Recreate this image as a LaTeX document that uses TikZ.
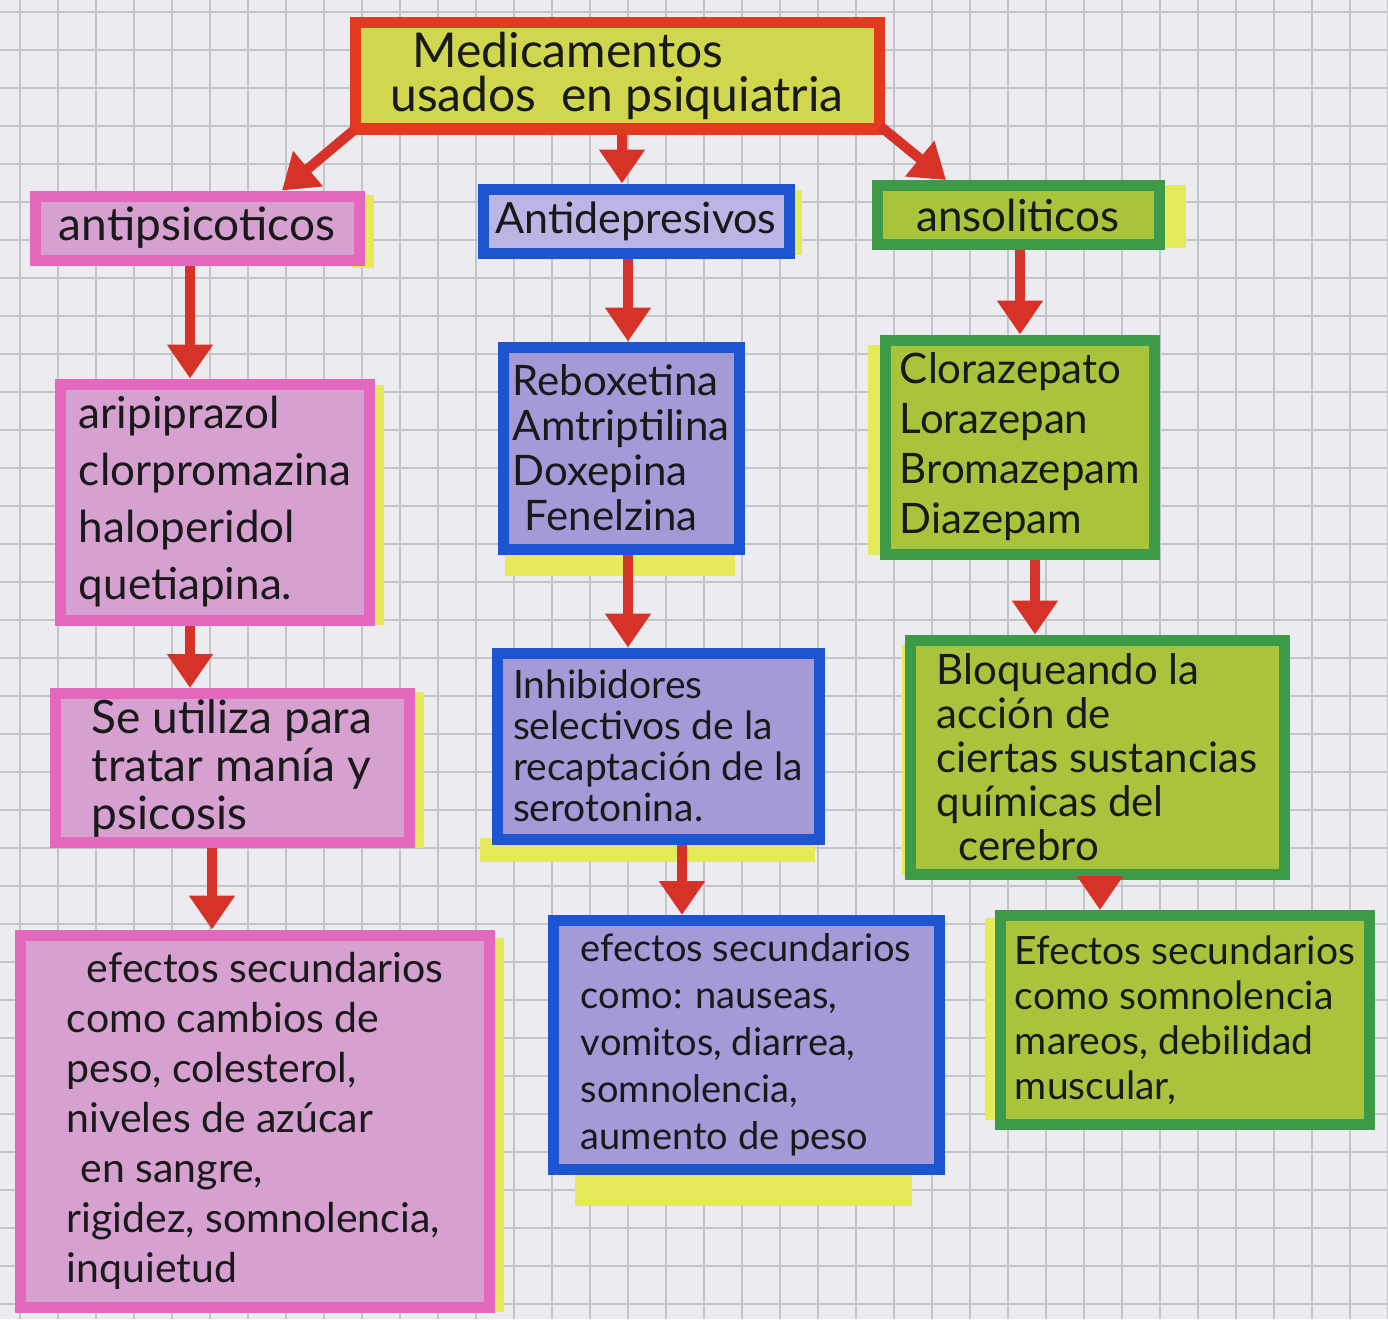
\documentclass[tikz,border=0pt]{standalone}
\usepackage{fontspec}
\setmainfont{Lato}
\usetikzlibrary{arrows.meta}
\definecolor{paper}{RGB}{236,235,240}
\definecolor{gridc}{RGB}{196,196,204}
\definecolor{hlyel}{RGB}{228,234,90}
\definecolor{redb}{RGB}{226,58,30}
\definecolor{titlefill}{RGB}{208,214,78}
\definecolor{pinkb}{RGB}{228,104,190}
\definecolor{pinkf}{RGB}{214,160,208}
\definecolor{blueb}{RGB}{30,84,208}
\definecolor{bluef}{RGB}{164,154,216}
\definecolor{bluefl}{RGB}{188,180,228}
\definecolor{greenb}{RGB}{60,154,72}
\definecolor{greenf}{RGB}{168,196,60}
\definecolor{arrowc}{RGB}{214,50,40}
\tikzset{
  box/.style={draw, line width=11pt, rectangle, inner sep=3pt, align=left, text=black!90},
  pinkbox/.style={box, draw=pinkb, fill=pinkf},
  bluebox/.style={box, draw=blueb, fill=bluef},
  greenbox/.style={box, draw=greenb, fill=greenf},
  arr/.style={draw=arrowc, line width=10pt, -{Triangle[width=44pt,length=34pt]}, arrowc},
  hl/.style={fill=hlyel}
}
\begin{document}
\begin{tikzpicture}[x=1pt,y=-1pt]
\useasboundingbox (0,0) rectangle (1388,1319);
\fill[paper] (0,0) rectangle (1388,1319);
\foreach \gx in {20,58,...,1388} \draw[gridc, line width=1.6pt] (\gx,0) -- (\gx,1319);
\foreach \gy in {12,50,...,1319} \draw[gridc, line width=1.6pt] (0,\gy) -- (1388,\gy);
% yellow highlighter strips
\fill[hl] (352,195) rectangle (374,268);
\fill[hl] (362,385) rectangle (384,625);
\fill[hl] (400,692) rectangle (424,848);
\fill[hl] (482,938) rectangle (504,1312);
\fill[hl] (785,190) rectangle (802,255);
\fill[hl] (505,548) rectangle (735,576);
\fill[hl] (480,838) rectangle (815,862);
\fill[hl] (575,1168) rectangle (912,1206);
\fill[hl] (1155,185) rectangle (1186,248);
\fill[hl] (868,345) rectangle (890,555);
\fill[hl] (902,645) rectangle (918,875);
\fill[hl] (985,918) rectangle (1004,1120);
% nodes
\node[box, draw=redb, fill=titlefill, minimum width=524pt, minimum height=106pt,
      font=\fontsize{48}{44}\selectfont] (title) at (617,76)
      {\hspace*{22pt}Medicamentos\\usados \ en psiquiatria};
\node[pinkbox, minimum width=324pt, minimum height=64pt, font=\fontsize{46}{40}\selectfont]
      (anti) at (197,228) {antipsicoticos};
\node[bluebox, fill=bluefl, minimum width=306pt, minimum height=64pt, font=\fontsize{43}{40}\selectfont]
      (antid) at (636,221) {Antidepresivos};
\node[greenbox, minimum width=282pt, minimum height=59pt, font=\fontsize{44}{40}\selectfont]
      (anso) at (1018,215) {ansoliticos};
\node[pinkbox, minimum width=309pt, minimum height=236pt, font=\fontsize{44}{57}\selectfont]
      (ari) at (215,502) {aripiprazol\\clorpromazina\\haloperidol\\quetiapina.};
\node[pinkbox, minimum width=354pt, minimum height=149pt, font=\fontsize{46}{48}\selectfont]
      (uso) at (232,768) {Se utiliza para\\tratar manía y\\psicosis};
\node[pinkbox, minimum width=469pt, minimum height=372pt, font=\fontsize{41}{50}\selectfont]
      (efL) at (255,1121) {\hspace*{20pt}efectos secundarios\\como cambios de\\peso, colesterol,\\niveles de azúcar\\\hspace*{14pt}en sangre,\\rigidez, somnolencia,\\inquietud};
\node[bluebox, minimum width=236pt, minimum height=202pt, font=\fontsize{42}{45}\selectfont]
      (rebo) at (621,448) {Reboxetina\\Amtriptilina\\Doxepina\\\hspace*{12pt}Fenelzina};
\node[bluebox, minimum width=322pt, minimum height=186pt, font=\fontsize{39}{41}\selectfont]
      (inhi) at (658,746) {Inhibidores\\selectivos de la\\recaptación de la\\serotonina.};
\node[bluebox, minimum width=386pt, minimum height=249pt, font=\fontsize{38}{47}\selectfont]
      (efM) at (746,1045) {efectos secundarios\\como: nauseas,\\vomitos, diarrea,\\somnolencia,\\aumento de peso};
\node[greenbox, minimum width=269pt, minimum height=214pt, font=\fontsize{42}{50}\selectfont]
      (clor) at (1020,447) {Clorazepato\\Lorazepan\\Bromazepam\\Diazepam};
\node[greenbox, minimum width=374pt, minimum height=234pt, font=\fontsize{42}{44}\selectfont]
      (bloq) at (1097,757) {Bloqueando la\\acción de\\ciertas sustancias\\químicas del\\\hspace*{22pt}cerebro};
\node[greenbox, minimum width=369pt, minimum height=209pt, font=\fontsize{39}{45}\selectfont]
      (efR) at (1185,1020) {Efectos secundarios\\como somnolencia\\mareos, debilidad\\muscular,};
% arrows
\draw[arr] (title.south west) ++(4,-4) -- (anti.north -| 282,0);
\draw[arr] (title.south -| 622,0) -- (antid.north -| 622,0);
\draw[arr] (title.south east) ++(-4,-8) -- (anso.north -| 946,0);
\draw[arr] (anti.south -| 190,0) -- (ari.north -| 190,0);
\draw[arr] (ari.south -| 190,0) -- (uso.north -| 190,0);
\draw[arr] (uso.south -| 212,0) -- (efL.north -| 212,0);
\draw[arr] (antid.south -| 628,0) -- (rebo.north -| 628,0);
\draw[arr] (rebo.south -| 628,0) -- (inhi.north -| 628,0);
\draw[arr] (inhi.south -| 682,0) -- (efM.north -| 682,0);
\draw[arr] (anso.south -| 1020,0) -- (clor.north -| 1020,0);
\draw[arr] (clor.south -| 1035,0) -- (bloq.north -| 1035,0);
\draw[arr] (bloq.south -| 1100,0) -- (efR.north -| 1100,0);
\end{tikzpicture}
\end{document}
